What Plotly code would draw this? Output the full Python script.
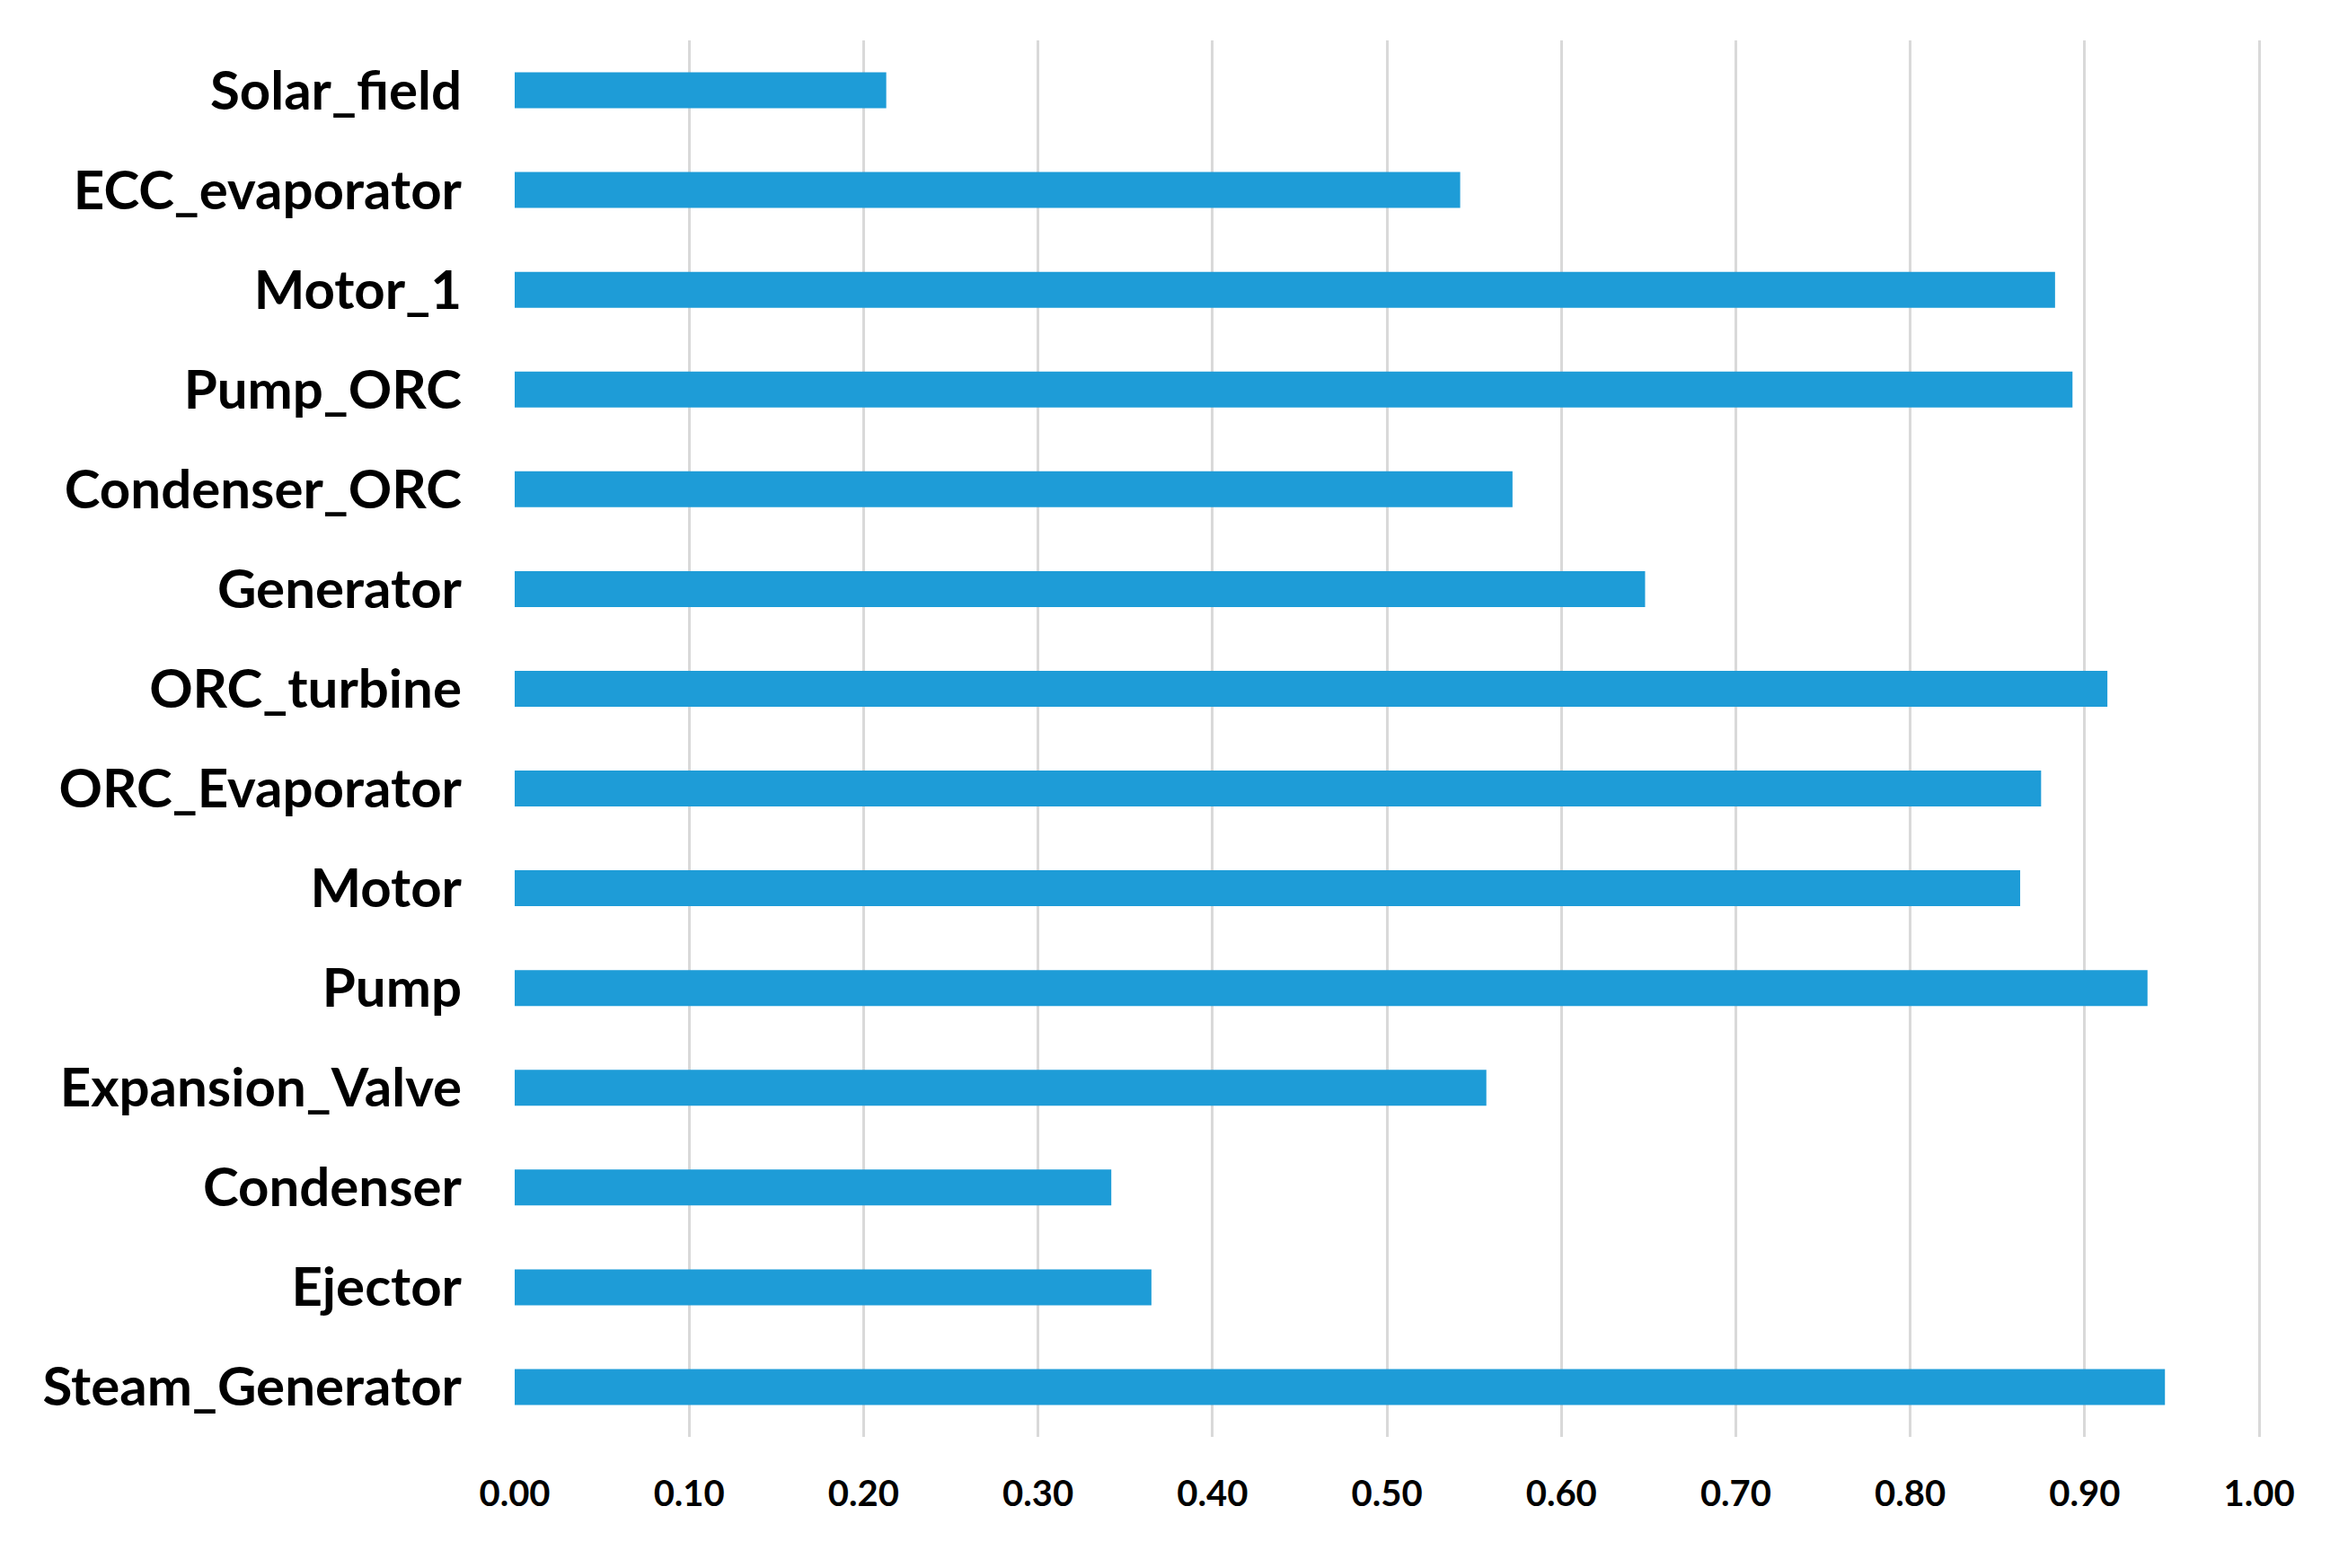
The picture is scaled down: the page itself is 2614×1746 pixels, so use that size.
import plotly.graph_objects as go

components = ["Solar_field", "ECC_evaporator", "Motor_1", "Pump_ORC", "Condenser_ORC",
              "Generator", "ORC_turbine", "ORC_Evaporator", "Motor", "Pump",
              "Expansion_Valve", "Condenser", "Ejector", "Steam_Generator"]
efficiency = [0.213, 0.542, 0.883, 0.893, 0.572,
              0.648, 0.913, 0.875, 0.863, 0.936,
              0.557, 0.342, 0.365, 0.946]
x_ticks = [0.0, 0.1, 0.2, 0.3, 0.4, 0.5, 0.6, 0.7, 0.8, 0.9, 1.0]
x_tick_labels = ["0.00", "0.10", "0.20", "0.30", "0.40", "0.50",
                 "0.60", "0.70", "0.80", "0.90", "1.00"]

fig = go.Figure(go.Bar(
    x=efficiency, y=components, orientation="h",
    marker=dict(color="#1E9CD7", line=dict(width=0)),
    width=0.36,
))

fig.update_layout(
    width=2614, height=1746,
    margin=dict(l=565, r=104, t=37, b=154),
    paper_bgcolor="white", plot_bgcolor="white",
    showlegend=False,
    font=dict(family="Lato", color="black"),
)
fig.update_xaxes(
    range=[0, 1.0015], tickvals=x_ticks, ticktext=x_tick_labels,
    showgrid=True, gridcolor="#D9D9D9", gridwidth=3,
    zeroline=False, showline=False,
    tickfont=dict(family="Lato", size=40, weight="bold", color="black"),
    ticks="", ticklabelstandoff=36,
)
fig.update_yaxes(
    autorange="reversed", showgrid=False, zeroline=False, showline=False,
    tickfont=dict(family="Lato", size=60, weight="bold", color="black"),
    ticks="", ticklabelstandoff=58,
)

fig.write_html("out.html")
